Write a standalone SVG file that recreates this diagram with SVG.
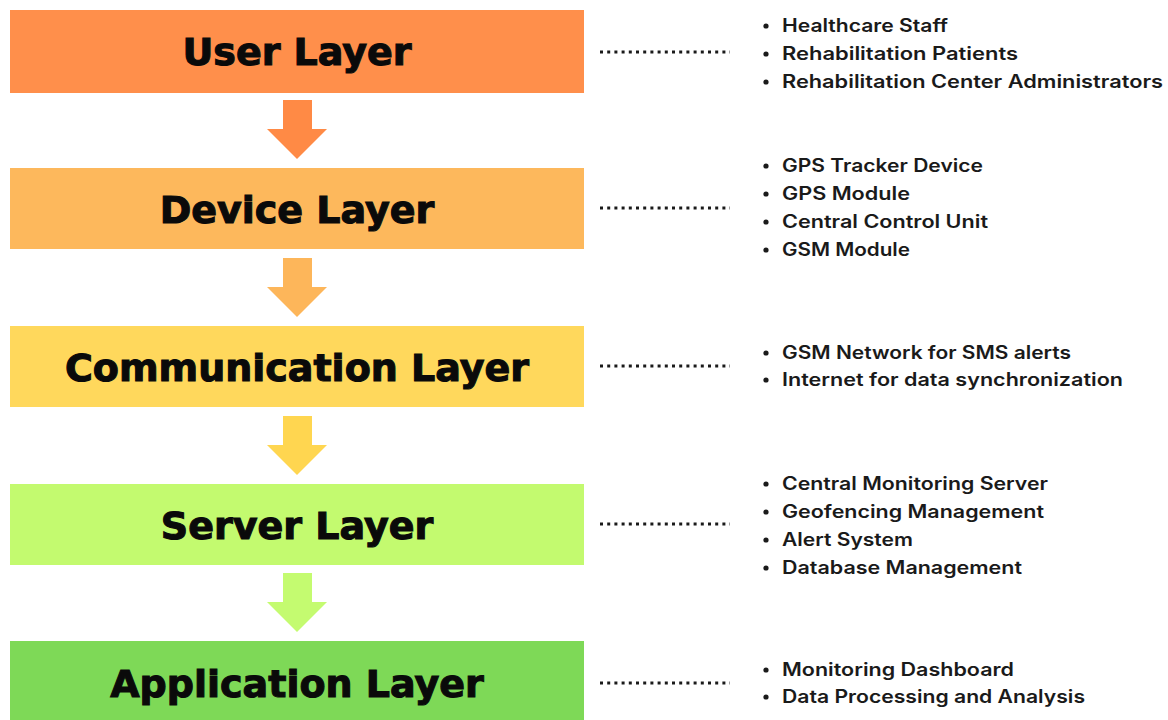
<svg xmlns="http://www.w3.org/2000/svg" width="1168" height="720" viewBox="0 0 1168 720">
<style>
.layer-title{font-family:"DejaVu Sans","Liberation Sans",sans-serif;font-weight:bold;font-size:38px;fill:#0a0a0a;stroke:#0a0a0a;stroke-width:1.1;text-anchor:middle}
.item{font-family:Inter,"Noto Sans","Liberation Sans",sans-serif;font-weight:600;font-size:18px;fill:#1a1a1a}
.dots{stroke:#1a1a1a;stroke-width:3;stroke-dasharray:3 4.2;fill:none}
.bullet{fill:#1a1a1a}
</style>
<rect width="1168" height="720" fill="#ffffff"/>
<g id="connectors">
<path d="M283 100 H312 V129 H327 L297 159 L267 129 H283 Z" fill="#FF8A45"/>
<path d="M283 258 H312 V287 H327 L297 317 L267 287 H283 Z" fill="#FDB65A"/>
<path d="M283 416 H312 V445 H327 L297 475 L267 445 H283 Z" fill="#FFD650"/>
<path d="M283 573 H312 V602 H327 L297 632 L267 602 H283 Z" fill="#C4FB70"/>
<line class="dots" x1="600" y1="52" x2="730" y2="52"/>
<line class="dots" x1="600" y1="208" x2="730" y2="208"/>
<line class="dots" x1="600" y1="366" x2="730" y2="366"/>
<line class="dots" x1="600" y1="524" x2="730" y2="524"/>
<line class="dots" x1="600" y1="683" x2="730" y2="683"/>
</g>
<g id="user-layer">
<rect x="10" y="10" width="574" height="83" fill="#FF8F4B"/>
<text class="layer-title" x="297" y="65">User Layer</text>
<circle class="bullet" cx="766" cy="26" r="2.6"/>
<circle class="bullet" cx="766" cy="54" r="2.6"/>
<circle class="bullet" cx="766" cy="82" r="2.6"/>
<text class="item" x="782" y="32" textLength="166" lengthAdjust="spacingAndGlyphs">Healthcare Staff</text>
<text class="item" x="782" y="60" textLength="236" lengthAdjust="spacingAndGlyphs">Rehabilitation Patients</text>
<text class="item" x="782" y="88" textLength="381" lengthAdjust="spacingAndGlyphs">Rehabilitation Center Administrators</text>
</g>
<g id="device-layer">
<rect x="10" y="168" width="574" height="81" fill="#FDB85C"/>
<text class="layer-title" x="297" y="223">Device Layer</text>
<circle class="bullet" cx="766" cy="166" r="2.6"/>
<circle class="bullet" cx="766" cy="194" r="2.6"/>
<circle class="bullet" cx="766" cy="222" r="2.6"/>
<circle class="bullet" cx="766" cy="250" r="2.6"/>
<text class="item" x="782" y="172" textLength="201" lengthAdjust="spacingAndGlyphs">GPS Tracker Device</text>
<text class="item" x="782" y="200" textLength="128" lengthAdjust="spacingAndGlyphs">GPS Module</text>
<text class="item" x="782" y="228" textLength="206" lengthAdjust="spacingAndGlyphs">Central Control Unit</text>
<text class="item" x="782" y="256" textLength="128" lengthAdjust="spacingAndGlyphs">GSM Module</text>
</g>
<g id="communication-layer">
<rect x="10" y="326" width="574" height="81" fill="#FFD85C"/>
<text class="layer-title" x="297" y="381">Communication Layer</text>
<circle class="bullet" cx="766" cy="353" r="2.6"/>
<circle class="bullet" cx="766" cy="380" r="2.6"/>
<text class="item" x="782" y="359" textLength="289" lengthAdjust="spacingAndGlyphs">GSM Network for SMS alerts</text>
<text class="item" x="782" y="386" textLength="341" lengthAdjust="spacingAndGlyphs">Internet for data synchronization</text>
</g>
<g id="server-layer">
<rect x="10" y="484" width="574" height="81" fill="#C3FA6F"/>
<text class="layer-title" x="297" y="539">Server Layer</text>
<circle class="bullet" cx="766" cy="484" r="2.6"/>
<circle class="bullet" cx="766" cy="512" r="2.6"/>
<circle class="bullet" cx="766" cy="540" r="2.6"/>
<circle class="bullet" cx="766" cy="568" r="2.6"/>
<text class="item" x="782" y="490" textLength="266" lengthAdjust="spacingAndGlyphs">Central Monitoring Server</text>
<text class="item" x="782" y="518" textLength="262" lengthAdjust="spacingAndGlyphs">Geofencing Management</text>
<text class="item" x="782" y="546" textLength="131" lengthAdjust="spacingAndGlyphs">Alert System</text>
<text class="item" x="782" y="574" textLength="240" lengthAdjust="spacingAndGlyphs">Database Management</text>
</g>
<g id="application-layer">
<rect x="10" y="641" width="574" height="79" fill="#7ED957"/>
<text class="layer-title" x="297" y="697">Application Layer</text>
<circle class="bullet" cx="766" cy="670" r="2.6"/>
<circle class="bullet" cx="766" cy="697" r="2.6"/>
<text class="item" x="782" y="676" textLength="232" lengthAdjust="spacingAndGlyphs">Monitoring Dashboard</text>
<text class="item" x="782" y="703" textLength="303" lengthAdjust="spacingAndGlyphs">Data Processing and Analysis</text>
</g>
</svg>
